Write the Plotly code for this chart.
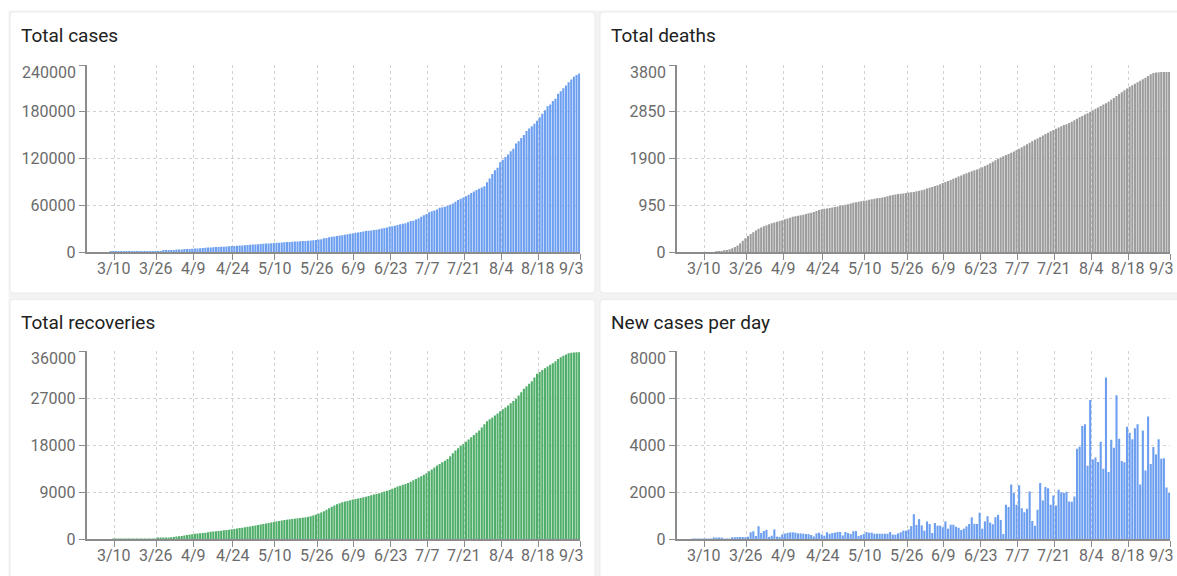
import plotly.graph_objects as go
import pandas as pd

W, H = 1177, 576
KY = 1.019   # vertical correction measured from an earlier render

# ---------------- data ----------------
dates = pd.date_range('2020-03-01', '2020-09-03', freq='D')

new_cases = [
    # March
    0, 0, 0, 0, 0, 2, 1, 4, 14, 9, 16, 3, 12, 47, 29, 47, 45, 15, 15, 13,
    77, 73, 82, 90, 84, 71, 96, 290, 330, 130, 540,
    # April
    260, 340, 390, 90, 140, 410, 100, 90, 200, 230, 260, 280, 285, 270, 240,
    240, 230, 210, 210, 170, 110, 240, 270, 190, 140, 290, 220, 250, 270, 300,
    # May
    300, 155, 300, 255, 210, 330, 340, 130, 170, 210, 300, 270, 270, 225, 225,
    225, 225, 225, 225, 300, 185, 185, 240, 285, 355, 355, 410, 550, 1060, 600, 850,
    # June
    580, 355, 750, 640, 255, 680, 570, 570, 500, 750, 440, 610, 610, 525, 480,
    385, 440, 540, 640, 920, 650, 640, 1120, 440, 750, 970, 700, 630, 930, 1030,
    # July
    815, 215, 1460, 1360, 2320, 1960, 1460, 2290, 1315, 1145, 1290, 2030, 770, 570, 1245,
    2390, 1645, 2215, 2170, 1460, 1860, 1430, 2100, 1990, 1960, 2015, 1600, 1590, 1815, 3850, 3930,
    # August
    4820, 4900, 3120, 5930, 3390, 3475, 3290, 4150, 3000, 6890, 2860, 4230, 3890, 6130, 4275,
    3330, 3275, 4790, 4530, 4250, 4720, 4890, 2320, 4630, 2920, 5230, 3200, 3920, 3600, 4250, 3420,
    # September
    3450, 2200, 1970,
]

total_cases = [
    # March
    0, 0, 0, 0, 0, 2, 3, 7, 21, 30, 46, 49, 61, 108, 137, 184, 229, 244, 259, 272,
    349, 422, 504, 594, 678, 749, 845, 1135, 1465, 1595, 2135,
    # April
    2395, 2735, 3125, 3215, 3355, 3765, 3865, 3955, 4155, 4385, 4645, 4925, 5210, 5480, 5720,
    5960, 6190, 6400, 6610, 6780, 6890, 7130, 7400, 7590, 7730, 8020, 8240, 8490, 8760, 9060,
    # May
    9360, 9515, 9815, 10070, 10280, 10610, 10950, 11080, 11250, 11460, 11760, 12030, 12300, 12525, 12750,
    12975, 13200, 13425, 13650, 13950, 14135, 14320, 14560, 14845, 15200, 15555, 15965, 16515, 17575, 18175, 19025,
    # June
    19605, 19960, 20710, 21350, 21605, 22285, 22855, 23425, 23925, 24675, 25115, 25725, 26335, 26860, 27340,
    27725, 28165, 28705, 29345, 30265, 30915, 31555, 32675, 33115, 33865, 34835, 35535, 36165, 37095, 38125,
    # July
    39940, 40155, 41615, 42975, 45295, 47255, 48715, 51005, 52320, 53465, 54755, 56785, 57555, 58125, 59370,
    60760, 62405, 64620, 66790, 68250, 70110, 71540, 73640, 75630, 77590, 79605, 81205, 82795, 84610, 89460, 94390,
    # August
    100210, 105110, 108230, 115160, 118550, 122025, 125315, 129465, 132465, 139355, 142215, 146445, 150335, 155465, 158740,
    161570, 164845, 168635, 173165, 177415, 182135, 187025, 189345, 193975, 196895, 203125, 206325, 210245, 213845, 218095, 221515,
    # September
    224965, 227165, 229135,
]

total_deaths = [
    # March
    0, 0, 0, 0, 0, 0, 0, 0, 0, 0, 0, 0, 0, 0, 2, 5, 10, 20, 35, 55,
    75, 100, 135, 180, 230, 280, 325, 365, 400, 440, 475,
    # April
    500, 525, 545, 565, 585, 600, 615, 630, 645, 665, 680, 695, 715, 725, 740,
    750, 760, 775, 790, 800, 815, 835, 855, 870, 878, 885, 895, 905, 915, 925,
    # May
    940, 950, 960, 970, 985, 1000, 1010, 1020, 1030, 1040, 1050, 1062, 1075, 1085, 1092,
    1100, 1110, 1120, 1135, 1148, 1160, 1170, 1178, 1185, 1192, 1200, 1208, 1215, 1222, 1235, 1245,
    # June
    1255, 1270, 1290, 1305, 1320, 1340, 1360, 1380, 1405, 1425, 1445, 1465, 1490, 1510, 1535,
    1558, 1580, 1600, 1620, 1640, 1660, 1680, 1700, 1725, 1750, 1775, 1805, 1835, 1865, 1895,
    # July
    1920, 1945, 1970, 1995, 2020, 2045, 2075, 2100, 2130, 2160, 2190, 2220, 2250, 2280, 2310,
    2340, 2370, 2400, 2425, 2455, 2480, 2505, 2530, 2555, 2580, 2600, 2625, 2650, 2680, 2710, 2740,
    # August
    2765, 2795, 2820, 2850, 2880, 2910, 2940, 2970, 3000, 3025, 3055, 3095, 3130, 3170, 3210,
    3250, 3290, 3325, 3360, 3390, 3420, 3450, 3480, 3510, 3545, 3580, 3615, 3640, 3650, 3655, 3658,
    # September
    3660, 3660, 3662,
]

total_recoveries = [
    # March
    0, 0, 0, 0, 0, 0, 0, 0, 0, 2, 2, 2, 2, 2, 2, 5, 8, 10, 12, 15,
    20, 25, 30, 40, 50, 100, 130, 160, 200, 250, 300,
    # April
    350, 400, 460, 520, 600, 680, 760, 850, 930, 990, 1040, 1090, 1140, 1200, 1280,
    1370, 1450, 1500, 1550, 1600, 1660, 1720, 1790, 1860, 1930, 2000, 2090, 2180, 2260, 2340,
    # May
    2420, 2500, 2590, 2690, 2790, 2880, 2970, 3070, 3170, 3270, 3370, 3460, 3550, 3650, 3720,
    3780, 3850, 3910, 3970, 4030, 4100, 4160, 4250, 4370, 4520, 4680, 4880, 5100, 5320, 5620, 5920,
    # June
    6210, 6450, 6680, 6880, 7050, 7180, 7300, 7430, 7560, 7660, 7770, 7880, 8000, 8130, 8260,
    8390, 8520, 8660, 8800, 8950, 9100, 9250, 9420, 9640, 9860, 10060, 10230, 10400, 10580, 10760,
    # July
    11000, 11260, 11530, 11800, 12070, 12340, 12620, 13000, 13360, 13720, 14090, 14400, 14720, 15040, 15370,
    15900, 16440, 16980, 17400, 17830, 18260, 18690, 19120, 19540, 19970, 20400, 20820, 21420, 22010, 22610, 22980,
    # August
    23340, 23700, 24110, 24530, 24900, 25260, 25620, 26050, 26470, 26900, 27540, 28180, 28820, 29310, 29800,
    30300, 31000, 31710, 32070, 32440, 32800, 33120, 33440, 33760, 34140, 34530, 34910, 35170, 35420, 35680, 35750,
    # September
    35800, 35840, 35870,
]

tick_dates = ['2020-03-10', '2020-03-26', '2020-04-09', '2020-04-24', '2020-05-10',
              '2020-05-26', '2020-06-09', '2020-06-23', '2020-07-07', '2020-07-21',
              '2020-08-04', '2020-08-18', '2020-09-03']
tick_labels = ['3/10', '3/26', '4/9', '4/24', '5/10', '5/26', '6/9', '6/23',
               '7/7', '7/21', '8/4', '8/18', '9/3']

titles = ['Total cases', 'Total deaths', 'Total recoveries', 'New cases per day']
series = [total_cases, total_deaths, total_recoveries, new_cases]
colors = ['#6d9ff0', '#9c9c9c', '#4fae69', '#6d9ff0']
y_ticks = [
    [0, 60000, 120000, 180000, 240000],
    [0, 950, 1900, 2850, 3800],
    [0, 9000, 18000, 27000, 36000],
    [0, 2000, 4000, 6000, 8000],
]

# ---------------- layout geometry (reference pixels) ----------------
plot_x = [(86.7, 580.2), (676.7, 1170.2), (86.7, 580.2), (676.7, 1170.2)]
plot_y = [(65, 251.7), (65, 251.7), (351, 538.3), (351, 538.3)]
title_pos = [(19, 35), (609, 35), (19, 322), (609, 322)]


def px_x(p):
    return p / W


def px_y(p):
    return 1 - p * KY / H


def rrect(x0, y0, x1, y1, r):
    X = px_x
    Y = px_y
    return (f"M {X(x0 + r)},{Y(y0)} L {X(x1 - r)},{Y(y0)} Q {X(x1)},{Y(y0)} {X(x1)},{Y(y0 + r)} "
            f"L {X(x1)},{Y(y1 - r)} Q {X(x1)},{Y(y1)} {X(x1 - r)},{Y(y1)} "
            f"L {X(x0 + r)},{Y(y1)} Q {X(x0)},{Y(y1)} {X(x0)},{Y(y1 - r)} "
            f"L {X(x0)},{Y(y0 + r)} Q {X(x0)},{Y(y0)} {X(x0 + r)},{Y(y0)} Z")


DAY = 86400000
GRID = '#d2d2d2'
AXIS = '#8c8c8c'
TICKFONT = dict(family='Roboto', size=16, color='#6b6b6b')

fig = go.Figure()
layout = dict(
    width=W, height=H, autosize=False,
    margin=dict(l=0, r=0, t=0, b=0),
    paper_bgcolor='#ffffff', plot_bgcolor='rgba(0,0,0,0)',
    showlegend=False, font=dict(family='Roboto'),
)

shapes = [dict(type='rect', xref='paper', yref='paper', layer='below',
               x0=px_x(8.5), x1=px_x(1190), y0=px_y(10.5), y1=px_y(600),
               fillcolor='#f3f3f3', line=dict(width=0))]
cards = [(10, 12, 595, 292.7), (600, 12, 1190, 292.7),
         (10, 299, 595, 600), (600, 299, 1190, 600)]
for c in cards:
    shapes.append(dict(type='path', xref='paper', yref='paper', layer='below',
                       path=rrect(*c, 4), fillcolor='#ffffff',
                       line=dict(color='#ebebeb', width=1)))

annotations = []
for i in range(4):
    n = '' if i == 0 else str(i + 1)
    xa, ya = 'x' + n, 'y' + n
    fig.add_trace(go.Bar(
        x=dates, y=series[i], xaxis=xa, yaxis=ya,
        marker=dict(color=colors[i], line=dict(width=0)),
        width=0.8 * DAY, offset=-0.8 * DAY, hoverinfo='skip',
    ))
    (x0, x1), (y0, y1) = plot_x[i], plot_y[i]
    layout['xaxis' + n] = dict(
        type='date', domain=[px_x(x0), px_x(x1)], anchor=ya,
        range=['2020-02-28 12:00', '2020-09-03'],
        tickvals=tick_dates, ticktext=[''] * len(tick_dates),
        showgrid=True, gridcolor=GRID, griddash='3px,3px', gridwidth=1,
        ticks='outside', ticklen=6, tickcolor=AXIS, tickwidth=1,
        showline=True, linecolor=AXIS, linewidth=1.5,
        tickfont=TICKFONT, fixedrange=True, zeroline=False,
    )
    yt = y_ticks[i]
    layout['yaxis' + n] = dict(
        domain=[px_y(y1), px_y(y0)], anchor=xa,
        range=[0, yt[-1]],
        tickvals=yt, ticktext=[str(v) for v in yt[:-1]] + [''],
        showgrid=True, gridcolor=GRID, griddash='3px,3px', gridwidth=1,
        ticks='outside', ticklen=6, tickcolor=AXIS, tickwidth=1,
        showline=True, linecolor=AXIS, linewidth=2,
        tickfont=TICKFONT, fixedrange=True, zeroline=False,
    )
    # panel title
    tx, ty = title_pos[i]
    annotations.append(dict(
        text=titles[i], xref='paper', yref='paper', x=px_x(tx), y=px_y(ty),
        xanchor='left', yanchor='middle', showarrow=False,
        font=dict(family='Roboto', size=19, color='#212121')))
    # top y label (sits just inside the top of the chart)
    annotations.append(dict(
        text=str(yt[-1]), xref=xa + ' domain', yref=ya + ' domain', x=0, y=1,
        xanchor='right', yanchor='top', xshift=-9, yshift=4, showarrow=False,
        font=TICKFONT))
    # x tick labels
    for k, (d, lab) in enumerate(zip(tick_dates, tick_labels)):
        last = k == len(tick_dates) - 1
        annotations.append(dict(
            text=lab, xref=xa, yref=ya + ' domain', x=d, y=0,
            xanchor='right' if last else 'center', yanchor='middle',
            xshift=6 if last else 0, yshift=-16.5, showarrow=False,
            font=TICKFONT))

layout['shapes'] = shapes
layout['annotations'] = annotations
fig.update_layout(**layout)
fig.write_html('out.html', config={'displayModeBar': False},
               post_script="document.body.style.margin='0px';")
